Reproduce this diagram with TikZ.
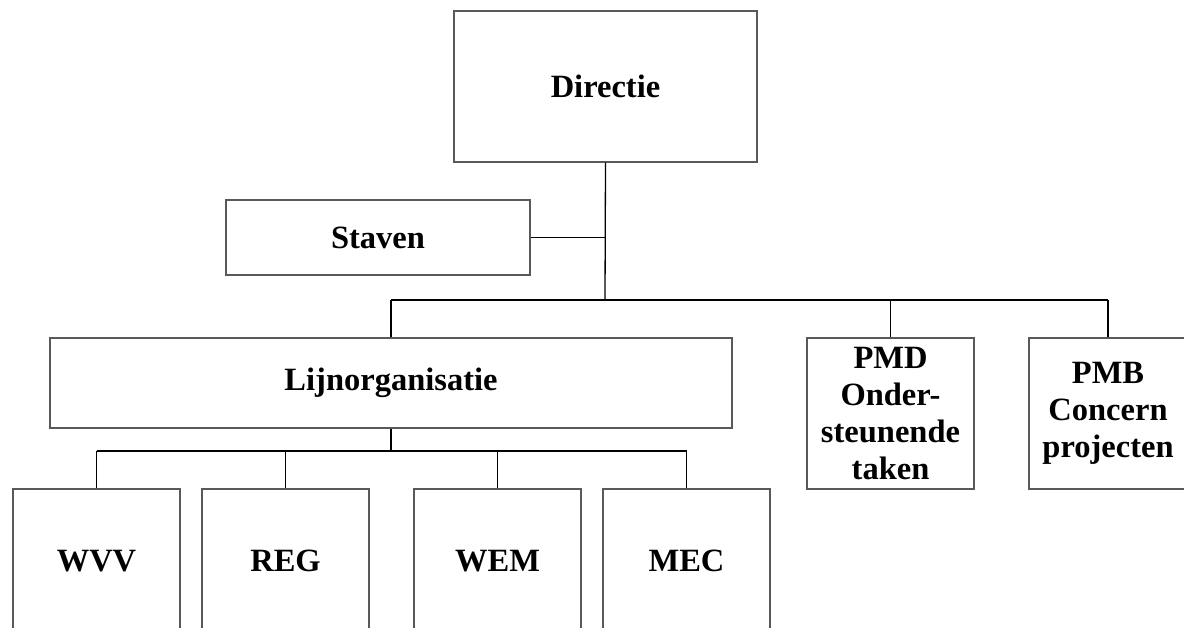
\documentclass[tikz,border=0pt]{standalone}
\usepackage{fontspec}
\setmainfont{Liberation Serif}
\begin{document}
\begin{tikzpicture}[x=1pt,y=-1pt,
  box/.style={draw=black!65, line width=1.3pt, fill=white, align=center, inner sep=0pt,
    font=\fontsize{32.5}{37}\selectfont\bfseries},
  conn/.style={draw=black, line width=1.3pt}]
\clip (0,0) rectangle (1184,628);
\fill[white] (0,0) rectangle (1184,628);
% nodes
\node[box, minimum width=303pt, minimum height=151pt] (dir) at (605.5,86.5) {Directie};
\node[box, minimum width=304pt, minimum height=75pt] (stav) at (378,237.5) {Staven};
\node[box, minimum width=682pt, minimum height=90pt] (lijn) at (391,383) {Lijnorganisatie};
\node[box, minimum width=167pt, minimum height=151pt] (pmd) at (890.5,413.5) {PMD\\Onder-\\steunende\\taken};
\node[box, minimum width=158pt, minimum height=151pt] (pmb) at (1108,413.5) {PMB\\Concern\\projecten};
\node[box, minimum width=167pt, minimum height=144pt] (wvv) at (96.5,561) {WVV};
\node[box, minimum width=167pt, minimum height=144pt] (reg) at (285.5,561) {REG};
\node[box, minimum width=167pt, minimum height=144pt] (wem) at (497.5,561) {WEM};
\node[box, minimum width=167pt, minimum height=144pt] (mec) at (686.5,561) {MEC};
% bus coordinates
\coordinate (top) at (605,300);
\coordinate (busL) at (391,300);
\coordinate (busR) at (1108,300);
\coordinate (lbus) at (391,451);
\coordinate (lbusL) at (96.5,451);
\coordinate (lbusR) at (686.5,451);
% connectors
\draw[conn] (dir.south) -- (top);
\draw[conn] (stav.east) -- (stav.east -| top);
\draw[conn] (busL) -- (busR);
\draw[conn] (busL) -- (lijn.north);
\draw[conn] (pmd.north |- top) -- (pmd.north);
\draw[conn] (busR) -- (pmb.north);
\draw[conn] (lijn.south) -- (lbus);
\draw[conn] (lbusL) -- (lbusR);
\draw[conn] (lbusL) -- (wvv.north);
\draw[conn] (reg.north |- lbus) -- (reg.north);
\draw[conn] (wem.north |- lbus) -- (wem.north);
\draw[conn] (lbusR) -- (mec.north);
\end{tikzpicture}
\end{document}
